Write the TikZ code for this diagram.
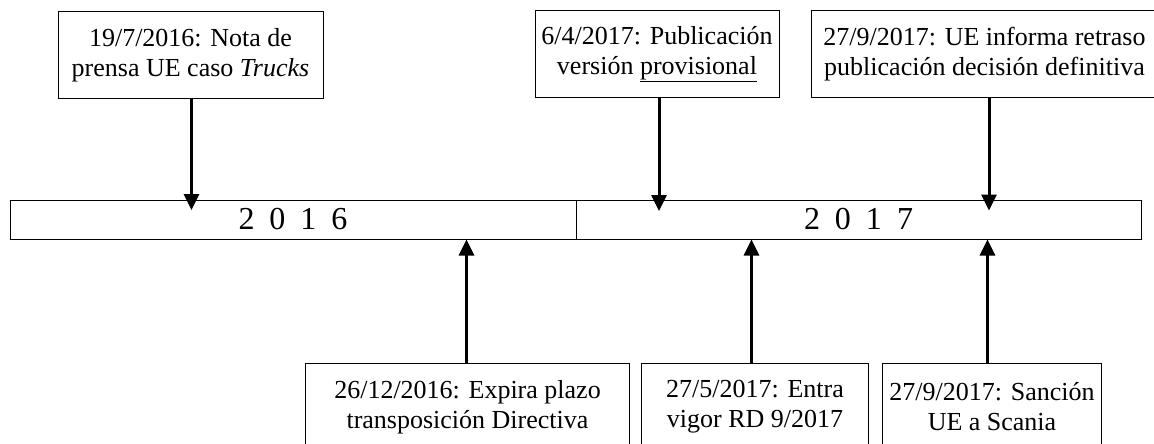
\documentclass[tikz,border=0pt]{standalone}
\usepackage{fontspec}
\setmainfont{Liberation Serif}
\usetikzlibrary{arrows.meta}
\tikzset{
  evbox/.style={draw, line width=1pt, inner sep=0pt, align=center,
    minimum height=86pt, font=\fontsize{26}{30}\selectfont},
  yearbox/.style={draw, line width=1pt, inner sep=0pt, minimum height=39pt,
    font=\fontsize{32}{36}\selectfont},
  evarrow/.style={line width=3pt, -{Triangle[width=15pt,length=16pt]}}
}
\newcommand{\yeardigits}[4]{#1\hspace{15pt}#2\hspace{15pt}#3\hspace{15pt}#4}
\begin{document}
\begin{tikzpicture}[x=1pt,y=-1pt]
\useasboundingbox (0,0) rectangle (1154,444);
\clip (0,0) rectangle (1154,444);
% timeline bar
\node[yearbox, minimum width=566pt] (y2016) at (293,219.5) {\yeardigits2016};
\node[yearbox, minimum width=565pt] (y2017) at (858.5,219.5) {\yeardigits2017};
% top events
\node[evbox, minimum width=265pt] (b1) at (190.5,55) {19/7/2016: Nota de\\prensa UE caso \textit{Trucks}};
\node[evbox, minimum width=244pt] (b2) at (657,54) {6/4/2017: Publicación\\versión \underline{provisional}};
\node[evbox, minimum width=347pt, minimum height=87pt] (b3) at (984.5,54) {27/9/2017: UE informa retraso\\publicación decisión definitiva};
% bottom events
\node[evbox, minimum width=324pt, minimum height=88pt] (b4) at (467.5,407) {26/12/2016: Expira plazo\\transposición Directiva};
\node[evbox, minimum width=227pt, minimum height=88pt] (b5) at (755,407) {27/5/2017: Entra\\vigor RD 9/2017};
\node[evbox, minimum width=219pt, minimum height=88pt] (b6) at (992,407) {27/9/2017: Sanción\\UE a Scania};
% arrow end points
\coordinate (t1) at (191.5,210);
\coordinate (t2) at (659,211);
\coordinate (t3) at (989,210.5);
\coordinate (u4) at (466.5,0);
\coordinate (u5) at (751.5,0);
\coordinate (u6) at (987.5,0);
% connectors
\draw[evarrow] (t1 |- b1.south) -- (t1);
\draw[evarrow] (t2 |- b2.south) -- (t2);
\draw[evarrow] (t3 |- b3.south) -- (t3);
\draw[evarrow] (u4 |- b4.north) -- (u4 |- y2016.south);
\draw[evarrow] (u5 |- b5.north) -- (u5 |- y2017.south);
\draw[evarrow] (u6 |- b6.north) -- (u6 |- y2017.south);
\end{tikzpicture}
\end{document}
